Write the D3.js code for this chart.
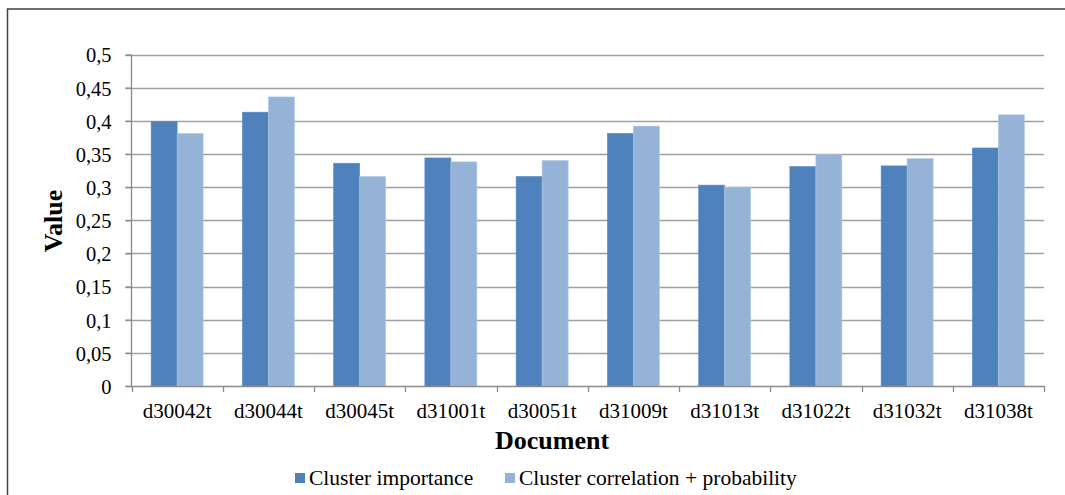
<!DOCTYPE html>
<html><head><meta charset="utf-8">
<script src="https://cdn.jsdelivr.net/npm/d3@7"></script>
<style>body{margin:0;background:#fff}svg{display:block}
svg text{font-family:"Liberation Serif","Times New Roman",Times,"DejaVu Serif",serif !important;fill:#000}</style>
</head><body>
<svg id="c" width="1065" height="495"></svg>
<script>
const categories = ["d30042t","d30044t","d30045t","d31001t","d30051t","d31009t","d31013t","d31022t","d31032t","d31038t"];
const seriesNames = ["Cluster importance","Cluster correlation + probability"];
const importance = [0.399,0.413,0.336,0.344,0.316,0.381,0.303,0.331,0.332,0.359];
const correlation = [0.381,0.436,0.316,0.338,0.340,0.392,0.300,0.349,0.343,0.409];
const yTicks = [0,0.05,0.1,0.15,0.2,0.25,0.3,0.35,0.4,0.45,0.5];
const colors = ["#4F81BD","#95B3D7"];

const svg = d3.select("#c");
const L = 131.5, R = 1044, T = 54.5, B = 386;
const x = d3.scaleBand().domain(categories).range([L,R]).paddingInner(0).paddingOuter(0);
const y = d3.scaleLinear().domain([0,0.5]).range([B,T]);
const fmt = v => String(+v.toFixed(2)).replace(".", ",");

// outer border
svg.append("rect").attr("x",7.5).attr("y",9).attr("width",1080).attr("height",520)
  .attr("fill","none").attr("stroke","#404040").attr("stroke-width",1.5);

// grid
svg.append("g").selectAll("line").data(yTicks.filter(d=>d>0)).join("line")
  .attr("x1",L-6).attr("x2",R).attr("y1",d=>Math.round(y(d))+0.5).attr("y2",d=>Math.round(y(d))+0.5)
  .attr("stroke","#a0a0a0").attr("stroke-width",1.3);

// y axis
const yAxis = d3.axisLeft(y).tickValues(yTicks).tickFormat(fmt).tickSize(6).tickPadding(14);
const gy = svg.append("g").attr("transform",`translate(${L},0)`).call(yAxis);
gy.attr("font-family",null).attr("font-size",null);
gy.select(".domain").attr("stroke","#8a8a8a").attr("stroke-width",1.3).attr("d",`M0,${T}V${B}`);
gy.selectAll(".tick line").attr("stroke","#8a8a8a").attr("stroke-width",1.3);
gy.selectAll(".tick text").style("font-size","20.5px").attr("dy","0.36em");

// bars
const bw = 26, off = (x.bandwidth()-2*bw)/2;
const data = categories.map((c,i)=>({c, v:[importance[i],correlation[i]]}));
const g = svg.append("g");
data.forEach(d=>{
  d.v.forEach((v,k)=>{
    g.append("rect").attr("x",x(d.c)+off+k*bw).attr("y",y(v)).attr("width",bw).attr("height",B-y(v))
      .attr("fill",colors[k]).attr("stroke",k===0?"#5a8ac4":"#b0c8e6").attr("stroke-width",0.6);
  });
});

// x axis
const gx = svg.append("g").attr("transform",`translate(0,${B})`);
gx.append("line").attr("x1",L-6).attr("x2",R).attr("y1",0.5).attr("y2",0.5).attr("stroke","#8a8a8a").attr("stroke-width",1.3);
const bounds = categories.map(c=>x(c)).concat([R]);
gx.selectAll(".tk").data(bounds).join("line").attr("class","tk")
  .attr("x1",d=>Math.round(d)+0.5).attr("x2",d=>Math.round(d)+0.5).attr("y1",0).attr("y2",6)
  .attr("stroke","#8a8a8a").attr("stroke-width",1.3);
gx.selectAll(".lb").data(categories).join("text").attr("class","lb")
  .attr("x",d=>x(d)+x.bandwidth()/2).attr("y",31.5).attr("text-anchor","middle").style("font-size","21px").text(d=>d);

// axis titles
svg.append("text").attr("x",552).attr("y",449).attr("text-anchor","middle")
  .style("font-size","26px").style("font-weight","bold").text("Document");
svg.append("text").attr("transform",`translate(62,221) rotate(-90)`).attr("text-anchor","middle")
  .style("font-size","26px").style("font-weight","bold").text("Value");

// legend
const leg = svg.append("g");
const lx = [295, 505];
seriesNames.forEach((s,k)=>{
  leg.append("rect").attr("x",lx[k]).attr("y",473).attr("width",10).attr("height",10).attr("fill",colors[k]);
  leg.append("text").attr("x",lx[k]+14).attr("y",485).style("font-size","21.5px").text(s);
});
</script>
</body></html>
